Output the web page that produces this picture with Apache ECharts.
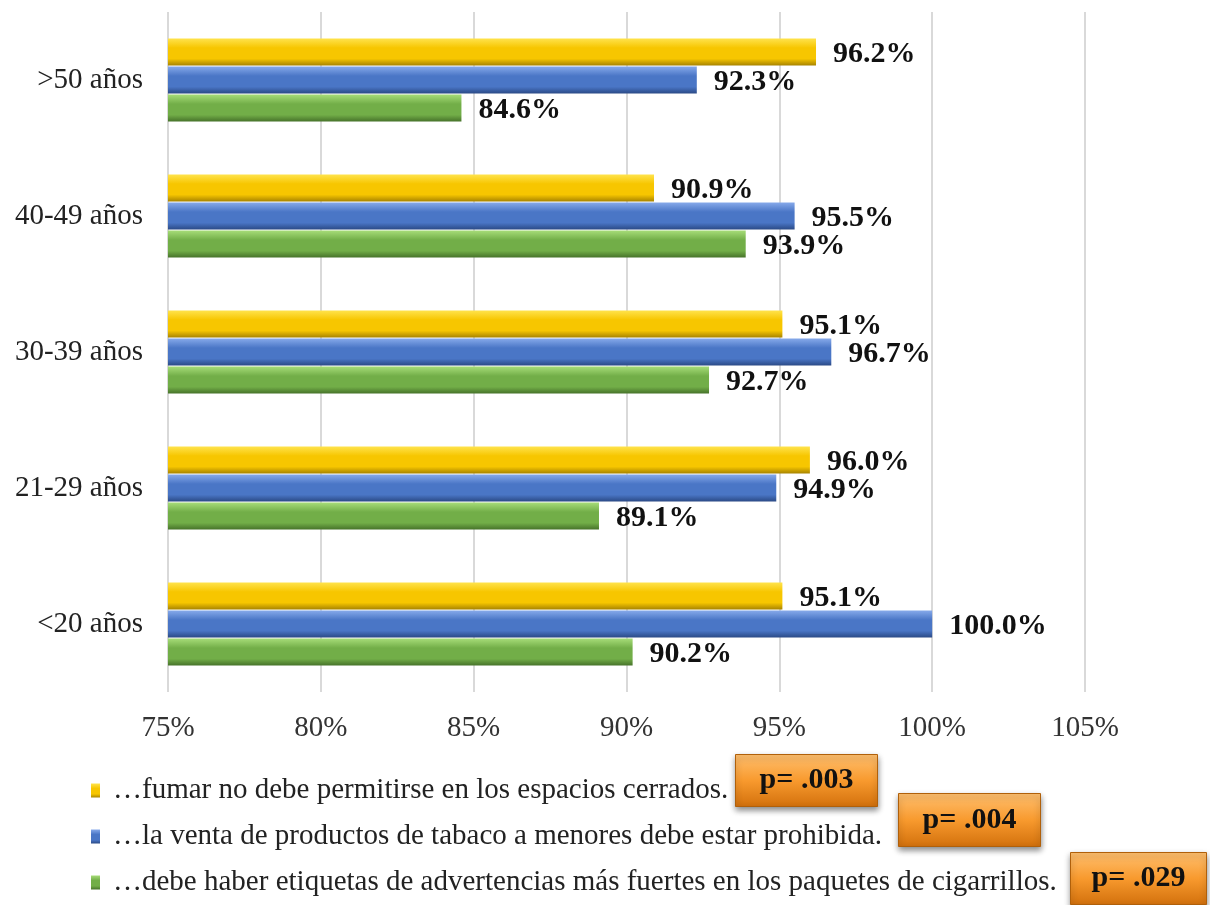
<!DOCTYPE html>
<html><head><meta charset="utf-8">
<script src="https://cdn.jsdelivr.net/npm/echarts@6/dist/echarts.min.js"></script>
<style>html,body{margin:0;padding:0;background:#fff}#c{width:1210px;height:905px}</style>
</head><body><div id="c"></div>
<script>
const categories = ['<20 años', '21-29 años', '30-39 años', '40-49 años', '>50 años'];
const fumar = [95.1, 96.0, 95.1, 90.9, 96.2];
const venta = [100.0, 94.9, 96.7, 95.5, 92.3];
const etiquetas = [90.2, 89.1, 92.7, 93.9, 84.6];
const seriesNames = [
  '…fumar no debe permitirse en los espacios cerrados.',
  '…la venta de productos de tabaco a menores debe estar prohibida.',
  '…debe haber etiquetas de advertencias más fuertes en los paquetes de cigarrillos.'
];
const pValues = ['p= .003', 'p= .004', 'p= .029'];
const xTicks = [75, 80, 85, 90, 95, 100, 105];

const serif = '"Liberation Serif", "DejaVu Serif", serif';
function grad(top, mid, bot) {
  return new echarts.graphic.LinearGradient(0, 0, 0, 1, [
    {offset: 0, color: top}, {offset: 0.35, color: mid}, {offset: 0.75, color: mid}, {offset: 1, color: bot}
  ]);
}
const colYellow = grad('#FFE34D', '#F7C600', '#A88400');
const colBlue = grad('#86A9EA', '#4A76C6', '#2B4A86');
const colGreen = grad('#A6DC78', '#72AE48', '#46722A');

function mk(name, data, color) {
  return {
    name: name, type: 'bar', data: data, barWidth: 27, barGap: '4%',
    itemStyle: {color: color},
    label: {show: true, position: 'right', distance: 17, offset: [0, 2], formatter: p => p.value.toFixed(1) + '%',
      fontFamily: serif, fontWeight: 'bold', fontSize: 30, color: '#111'}
  };
}

const chart = echarts.init(document.getElementById('c'));
const boxes = [[735, 754, 142, 52], [898, 793, 142, 53], [1070, 852, 136, 52]];
chart.setOption({
  animation: false,
  grid: {left: 168, right: 125, top: 12, bottom: 213, containLabel: false},
  xAxis: {type: 'value', min: xTicks[0], max: xTicks[xTicks.length - 1], interval: 5,
    axisLine: {show: false}, axisTick: {show: false},
    splitLine: {lineStyle: {color: '#d9d9d9', width: 2}},
    axisLabel: {formatter: v => v + '%', fontFamily: serif, fontSize: 29, color: '#333', margin: 22}},
  yAxis: {type: 'category', data: categories,
    axisLine: {show: false}, axisTick: {show: false},
    axisLabel: {fontFamily: serif, fontSize: 29, color: '#222', margin: 25}},
  legend: {orient: 'vertical', left: 86, top: 771, itemGap: 17, itemWidth: 9, itemHeight: 14,
    data: seriesNames, icon: 'rect',
    textStyle: {fontFamily: serif, fontSize: 29, color: '#222', padding: [0, 0, 0, 8]}},
  series: [
    mk(seriesNames[0], fumar, colYellow),
    mk(seriesNames[1], venta, colBlue),
    mk(seriesNames[2], etiquetas, colGreen)
  ],
  graphic: boxes.map((b, i) => ({
    type: 'group', left: b[0], top: b[1],
    children: [
      {type: 'rect', shape: {x: 0, y: 0, width: b[2], height: b[3]},
        style: {fill: new echarts.graphic.LinearGradient(0, 0, 0, 1, [
          {offset: 0, color: '#FFC070'}, {offset: 0.5, color: '#F89A2E'}, {offset: 1, color: '#D2700C'}]),
          stroke: '#B0600A', lineWidth: 1, shadowBlur: 6, shadowOffsetY: 3, shadowColor: 'rgba(0,0,0,0.45)'}},
      {type: 'text', style: {text: pValues[i], x: b[2] / 2, y: b[3] / 2, align: 'center', verticalAlign: 'middle',
        fontFamily: serif, fontWeight: 'bold', fontSize: 30, fill: '#111'}}
    ]
  }))
});
</script></body></html>
